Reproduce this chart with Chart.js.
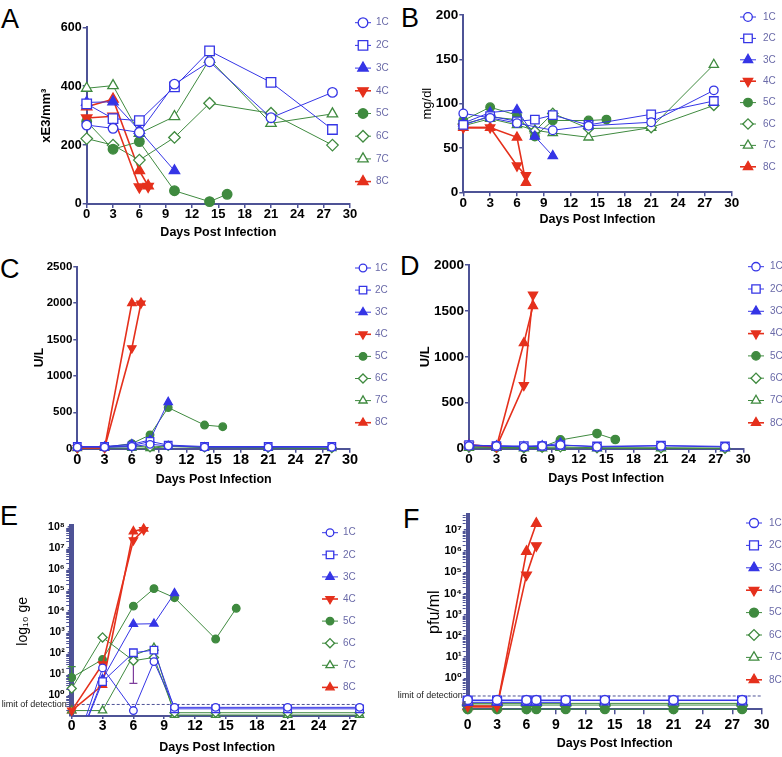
<!DOCTYPE html>
<html>
<head>
<meta charset="utf-8">
<script src="https://cdn.jsdelivr.net/npm/chart.js@4.4.1/dist/chart.umd.min.js"></script>
<style>
body { margin: 0; background: #fff; }
#fig { position: relative; width: 782px; height: 757px; overflow: hidden; }
#fig canvas { position: absolute; }
.lt { position: absolute; font: 27px 'Liberation Sans', Arial, sans-serif; line-height: 27px; color: #000; }
</style>
</head>
<body>
<div id="fig">
  <div class="lt" style="left:1px;top:6px">A</div>
  <div class="lt" style="left:401px;top:5px">B</div>
  <div class="lt" style="left:0px;top:256px">C</div>
  <div class="lt" style="left:400px;top:253px">D</div>
  <div class="lt" style="left:0px;top:503px">E</div>
  <div class="lt" style="left:403px;top:506px">F</div>
</div>
<script>
// sampling days (x) shared by every panel, null = no sample that day
const days = [0, 3, 6, 7, 8, 10, 14, 16, 21, 28];
const seriesNames = ['1C', '2C', '3C', '4C', '5C', '6C', '7C', '8C'];

// A - xE3/mm3
const plateletValues = [
  [268, 257, 243, null, null, 407, 483, null, 293, 379],
  [340, 290, 283, null, null, 398, 520, null, 413, 253],
  [345, 347, 250, null, null, 113, null, null, null, null],
  [292, 298, 58, 60, null, null, null, null, null, null],
  [280, 186, 212, null, null, 45, 8, 33, null, null],
  [222, 200, 149, null, null, 226, 342, null, 308, 200],
  [393, 402, 240, null, null, 297, 491, null, 274, 306],
  [330, 356, 113, 62, null, null, null, null, null, null]
];
// B - mg/dl
const mgdlValues = [
  [89, 84, 78, null, null, 70, 75, null, 79, 115],
  [76, 86, 80, null, 82, 87, 76, null, 88, 103],
  [78, 90, 93, null, 63, 41, null, null, null, null],
  [73, 73, 30, 19, null, null, null, null, null, null],
  [81, 96, 87, null, 63, 81, 81, 82, null, null],
  [77, 85, 82, null, 69, 89, 72, null, 73, 98],
  [75, 83, 76, null, 70, 67, 62, null, 73, 144],
  [73, 73, 62, 11, null, null, null, null, null, null]
];
// C - U/L
const cValues = [
  [20, 20, 30, null, 60, 40, 20, null, 20, 20],
  [30, 30, 40, null, 100, 50, 30, null, 30, 30],
  [30, 30, 60, null, 120, 640, null, null, null, null],
  [10, 10, 1380, 1995, null, null, null, null, null, null],
  [20, 20, 70, null, 190, 565, 325, 302, null, null],
  [10, 20, 40, null, 20, 40, 20, null, 15, 10],
  [5, 10, 10, null, 5, 30, 15, null, 10, 5],
  [10, 10, 2000, 2005, null, null, null, null, null, null]
];
// D - U/L
const dValues = [
  [30, 30, 20, null, 30, 40, 20, null, 30, 20],
  [40, 30, 30, null, 30, 40, 25, null, 35, 25],
  [40, 30, 20, null, 30, 60, null, null, null, null],
  [40, 20, 690, 1675, null, null, null, null, null, null],
  [20, 15, 15, null, 20, 95, 165, 100, null, null],
  [20, 15, 10, null, 15, 20, 10, null, 10, 5],
  [10, 10, 5, null, 5, 10, 5, null, 5, 5],
  [40, 20, 1150, 1555, null, null, null, null, null, null]
];
// E - genome equivalents
const geValues = [
  [0.001, 20, 0.19, null, 40, 0.27, 0.27, null, 0.27, 0.27],
  [0.001, 4.5, 105, null, 140, 0.23, 0.23, null, 0.23, 0.23],
  [0.001, 6, 2400, null, 2500, 70000, null, null, null, null],
  [0.19, 30, 2.3e7, 7e7, null, null, null, null, null, null],
  [7, 50, 17000, null, 115000, 43000, 470, 13500, null, null],
  [2.1, 560, 44, null, 63, 0.15, 0.15, null, 0.15, 0.15],
  [0.19, 0.19, 80, null, 180, 0.117, 0.117, null, 0.117, 0.117],
  [0.19, 3.1, 6e7, 8e7, null, null, null, null, null, null]
];
const geErrDays = [0, 6];
const geErrLow = [6.3, 3.7];
const geErrHigh = [23, 47];
// F - pfu/ml
const pfuValues = [
  [0.095, 0.095, 0.095, 0.095, null, 0.095, 0.095, null, 0.095, 0.095],
  [0.09, 0.09, 0.09, 0.09, null, 0.09, 0.09, null, 0.09, 0.09],
  [0.074, 0.074, 0.074, 0.074, null, 0.074, null, null, null, null],
  [0.05, 0.05, 75000, 1.8e6, null, null, null, null, null, null],
  [0.035, 0.035, 0.035, 0.035, null, 0.035, 0.035, null, 0.035, 0.035],
  [0.055, 0.055, 0.055, 0.055, null, 0.055, 0.055, null, 0.055, 0.055],
  [0.066, 0.066, 0.066, 0.066, null, 0.066, 0.066, null, 0.066, 0.066],
  [0.045, 0.045, 9.5e5, 2e7, null, null, null, null, null, null]
];

const dayTicks = [0, 3, 6, 9, 12, 15, 18, 21, 24, 27, 30];
const dayTicksE = [0, 3, 6, 9, 12, 15, 18, 21, 24, 27];
const aTicks = [0, 200, 400, 600];
const bTicks = [0, 50, 100, 150, 200];
const cTicks = [0, 500, 1000, 1500, 2000, 2500];
const dTicks = [0, 500, 1000, 1500, 2000];
const eTicks = [1, 10, 100, 1e3, 1e4, 1e5, 1e6, 1e7, 1e8];
const fTicks = [1, 10, 100, 1e3, 1e4, 1e5, 1e6, 1e7];
const eLimit = 0.37;
const fLimit = 0.147;

const FONT = "'Liberation Sans', Arial, 'DejaVu Sans', sans-serif";
const BLUE = '#3535e6', RED = '#e5301c', GREEN = '#3f8a3f', AXIS = '#4e5396';

const looks = [
  { color: BLUE, shape: 'circle', open: true },
  { color: BLUE, shape: 'rect', open: true },
  { color: BLUE, shape: 'triangle', open: false },
  { color: RED, shape: 'triangle', open: false, turn: 180 },
  { color: GREEN, shape: 'circle', open: false },
  { color: GREEN, shape: 'rectRot', open: true },
  { color: GREEN, shape: 'triangle', open: true },
  { color: RED, shape: 'triangle', open: false }
];
const sizeFactor = { circle: 1, rect: 1.4, triangle: 1.25, rectRot: 1.2 };

const SUP = { '0': '⁰', '1': '¹', '2': '²', '3': '³', '4': '⁴', '5': '⁵', '6': '⁶', '7': '⁷', '8': '⁸', '9': '⁹', '-': '⁻' };
function powLabel(v) {
  const e = String(Math.round(Math.log10(v)));
  return '10' + e.split('').map(c => SUP[c]).join('');
}

function makeDatasets(values, R, yMin) {
  return values.map((vals, i) => {
    const lk = looks[i];
    const pts = [];
    days.forEach((d, j) => { if (vals[j] !== null) pts.push({ x: d, y: vals[j] }); });
    const below = pts.some(p => p.y < yMin);
    return {
      label: seriesNames[i],
      data: pts,
      borderColor: lk.color,
      borderWidth: lk.color === RED ? 1.6 : 1,
      pointStyle: lk.shape,
      pointRotation: lk.turn || 0,
      pointRadius: R * sizeFactor[lk.shape],
      pointBorderWidth: 1.3,
      pointBorderColor: lk.color,
      pointBackgroundColor: lk.open ? '#fff' : lk.color,
      tension: 0,
      fill: false,
      clip: below ? { left: false, top: false, right: false, bottom: 0 } : false
    };
  });
}

// legend to the right: short line + marker + name
const sideLegend = {
  id: 'sideLegend',
  afterDraw(chart, args, o) {
    const ctx = chart.ctx;
    ctx.save();
    chart.data.datasets.forEach((ds, i) => {
      const y = o.y + i * o.step;
      ctx.strokeStyle = ds.borderColor;
      ctx.lineWidth = ds.borderWidth;
      ctx.beginPath(); ctx.moveTo(o.x - 8, y); ctx.lineTo(o.x + 8, y); ctx.stroke();
      ctx.fillStyle = ds.pointBackgroundColor;
      ctx.strokeStyle = ds.pointBorderColor;
      ctx.lineWidth = ds.pointBorderWidth;
      Chart.helpers.drawPoint(ctx, {
        pointStyle: ds.pointStyle, rotation: ds.pointRotation,
        radius: ds.pointRadius, borderWidth: ds.pointBorderWidth
      }, o.x, y);
      ctx.fillStyle = '#6a6aa8';
      ctx.font = '10px ' + FONT;
      ctx.textAlign = 'left';
      ctx.textBaseline = 'middle';
      ctx.fillText(ds.label, o.x + o.gap, y);
    });
    ctx.restore();
  }
};

const detectionLine = {
  id: 'detectionLine',
  beforeDatasetsDraw(chart, args, o) {
    const ctx = chart.ctx, a = chart.chartArea;
    const y = chart.scales.y.getPixelForValue(o.value);
    ctx.save();
    ctx.strokeStyle = AXIS; ctx.lineWidth = 1; ctx.setLineDash([3, 2]);
    ctx.beginPath(); ctx.moveTo(a.left, y); ctx.lineTo(a.right, y); ctx.stroke();
    ctx.setLineDash([]);
    ctx.fillStyle = '#222'; ctx.font = '9px ' + FONT;
    ctx.textAlign = 'right'; ctx.textBaseline = 'middle';
    ctx.fillText('limit of detection', a.left - 5, y);
    ctx.restore();
  }
};

// small minor tick marks on the log axes
const logMinor = {
  id: 'logMinor',
  afterDraw(chart, args, o) {
    const s = chart.scales.y, ctx = chart.ctx, x = chart.chartArea.left - o.half;
    ctx.save();
    ctx.strokeStyle = AXIS; ctx.lineWidth = 1;
    for (let e = -2; e < 9; e++) {
      for (let k = 2; k < 10; k++) {
        const v = k * Math.pow(10, e);
        if (v < s.min || v > s.max) continue;
        const y = Math.round(s.getPixelForValue(v)) + 0.5;
        ctx.beginPath(); ctx.moveTo(x, y); ctx.lineTo(x - o.len, y); ctx.stroke();
      }
    }
    ctx.restore();
  }
};

const errorBars = {
  id: 'errorBars',
  beforeDatasetsDraw(chart) {
    const ctx = chart.ctx, xs = chart.scales.x, ys = chart.scales.y;
    const cols = [GREEN, '#7d3d9c'];
    ctx.save();
    ctx.lineWidth = 1.2;
    geErrDays.forEach((d, i) => {
      const x = xs.getPixelForValue(d);
      const y1 = ys.getPixelForValue(geErrLow[i]), y2 = ys.getPixelForValue(geErrHigh[i]);
      ctx.strokeStyle = cols[i];
      ctx.beginPath();
      ctx.moveTo(x, y1); ctx.lineTo(x, y2);
      ctx.moveTo(x - 4, y1); ctx.lineTo(x + 4, y1);
      ctx.moveTo(x - 4, y2); ctx.lineTo(x + 4, y2);
      ctx.stroke();
    });
    ctx.restore();
  }
};

const fig = document.getElementById('fig');

function makePanel(p) {
  const [cx, cy, cw, ch] = p.canvas;
  const [l, t, r, b] = p.area;
  const cv = document.createElement('canvas');
  cv.width = cw; cv.height = ch;
  cv.style.left = cx + 'px'; cv.style.top = cy + 'px';
  fig.appendChild(cv);

  const xTitleSize = 12.5;
  const plugins = [sideLegend].concat(p.plugins || []);
  const pluginOpts = {
    legend: { display: false },
    tooltip: { enabled: false },
    sideLegend: { x: p.legend[0] - cx, y: p.legend[1] - cy, step: p.legend[2], gap: p.legend[3] }
  };
  if (p.limit !== undefined) pluginOpts.detectionLine = { value: p.limit };
  if (p.minor) pluginOpts.logMinor = { half: p.yBorder / 2, len: 3 };

  new Chart(cv, {
    type: 'line',
    data: { datasets: makeDatasets(p.values, p.R, p.yMin) },
    plugins: plugins,
    options: {
      responsive: false,
      animation: false,
      events: [],
      layout: { padding: { left: 0, top: t - cy, right: cx + cw - r, bottom: 0 } },
      plugins: pluginOpts,
      scales: {
        x: {
          type: 'linear',
          min: 0,
          max: p.xMax,
          afterBuildTicks: s => { s.ticks = p.xTicks.map(v => ({ value: v })); },
          afterFit: s => { s.height = cy + ch - b; },
          grid: { drawOnChartArea: false, drawTicks: true, tickLength: p.xTickLen, color: AXIS, lineWidth: 1.5 },
          border: { color: AXIS, width: 2 },
          ticks: {
            autoSkip: false, maxRotation: 0, padding: p.xPad, color: '#000',
            font: { family: FONT, size: p.xFont, weight: 'bold', lineHeight: 1 }
          },
          title: {
            display: true, text: 'Days Post Infection', color: '#000',
            font: { family: FONT, size: xTitleSize, weight: 'bold', lineHeight: 1.2 },
            padding: { top: 0, bottom: (cy + ch) - p.xTitleY - xTitleSize * 0.6 }
          }
        },
        y: {
          type: p.yType,
          min: p.yMin,
          max: p.yMax,
          afterBuildTicks: s => { s.ticks = p.yTicks.map(v => ({ value: v })); },
          afterFit: s => { s.width = l - cx; },
          grid: { drawOnChartArea: false, drawTicks: true, tickLength: p.yTickLen, color: AXIS, lineWidth: 1.5 },
          border: { color: AXIS, width: p.yBorder },
          ticks: {
            autoSkip: false, padding: p.yPad, color: '#000',
            font: { family: FONT, size: p.yFont, weight: 'bold', lineHeight: 1 },
            callback: p.yType === 'logarithmic' ? (v => powLabel(v)) : (v => String(v))
          },
          title: {
            display: true, text: p.yTitle, color: '#000',
            font: { family: FONT, size: p.yTitleSize, weight: p.yTitleWeight, lineHeight: 1.2 },
            padding: { top: p.yTitleX - cx - p.yTitleSize * 0.6, bottom: 0 }
          }
        }
      }
    }
  });
}

makePanel({
  canvas: [0, 0, 400, 245], area: [86.7, 27.3, 350, 204],
  xMax: 30, xTicks: dayTicks, xFont: 13, xTickLen: 4, xPad: 0, xTitleY: 233,
  yType: 'linear', yMin: 0, yMax: 600, yTicks: aTicks, yFont: 12.5, yTickLen: 4, yPad: 1, yBorder: 2,
  yTitle: 'xE3/mm³', yTitleSize: 13, yTitleWeight: 'bold', yTitleX: 46.7,
  values: plateletValues, R: 4.8, legend: [363, 22.7, 22.7, 13]
});

makePanel({
  canvas: [390, 0, 392, 245], area: [463.3, 15, 731.7, 192.3],
  xMax: 30, xTicks: dayTicks, xFont: 13.5, xTickLen: 4, xPad: 0, xTitleY: 220,
  yType: 'linear', yMin: 0, yMax: 200, yTicks: bTicks, yFont: 13.5, yTickLen: 4, yPad: 1, yBorder: 2,
  yTitle: 'mg/dl', yTitleSize: 13, yTitleWeight: 'normal', yTitleX: 427.5,
  values: mgdlValues, R: 4.3, legend: [748, 17, 21.4, 15]
});

makePanel({
  canvas: [0, 240, 400, 250], area: [77.3, 266.7, 350, 448.7],
  xMax: 30, xTicks: dayTicks, xFont: 14.5, xTickLen: 4, xPad: 0, xTitleY: 480,
  yType: 'linear', yMin: 0, yMax: 2500, yTicks: cTicks, yFont: 11.5, yTickLen: 4, yPad: 1, yBorder: 2,
  yTitle: 'U/L', yTitleSize: 12, yTitleWeight: 'bold', yTitleX: 40,
  values: cValues, R: 3.8, legend: [363, 268, 22.1, 12]
});

makePanel({
  canvas: [390, 240, 392, 250], area: [469, 265, 743.3, 448.7],
  xMax: 30, xTicks: dayTicks, xFont: 13.5, xTickLen: 4, xPad: 0, xTitleY: 479,
  yType: 'linear', yMin: 0, yMax: 2000, yTicks: dTicks, yFont: 13.5, yTickLen: 4, yPad: 1, yBorder: 2,
  yTitle: 'U/L', yTitleSize: 13, yTitleWeight: 'bold', yTitleX: 425,
  values: dValues, R: 4.2, legend: [756, 266.7, 22.3, 14]
});

makePanel({
  canvas: [0, 490, 400, 267], area: [71.7, 526.7, 362.7, 716],
  xMax: 28.3, xTicks: dayTicksE, xFont: 14, xTickLen: 3, xPad: 0, xTitleY: 747.5,
  yType: 'logarithmic', yMin: 0.105, yMax: 1e8, yTicks: eTicks, yFont: 10.5, yTickLen: 4, yPad: 3, yBorder: 5,
  yTitle: 'log₁₀ ge', yTitleSize: 14, yTitleWeight: 'normal', yTitleX: 23.3,
  values: geValues, R: 3.8, legend: [330, 532.7, 22.1, 13],
  limit: eLimit, minor: true, plugins: [detectionLine, logMinor, errorBars]
});

makePanel({
  canvas: [390, 490, 392, 267], area: [467.7, 515, 761.7, 709.3],
  xMax: 30, xTicks: dayTicks, xFont: 14, xTickLen: 5, xPad: 4, xTitleY: 744,
  yType: 'logarithmic', yMin: 0.0347, yMax: 5e7, yTicks: fTicks, yFont: 11, yTickLen: 4, yPad: 2, yBorder: 4,
  yTitle: 'pfu/ml', yTitleSize: 16, yTitleWeight: 'normal', yTitleX: 435,
  values: pfuValues, R: 4.5, legend: [754, 523, 22.4, 15],
  limit: fLimit, minor: true, plugins: [detectionLine, logMinor]
});
</script>
</body>
</html>
